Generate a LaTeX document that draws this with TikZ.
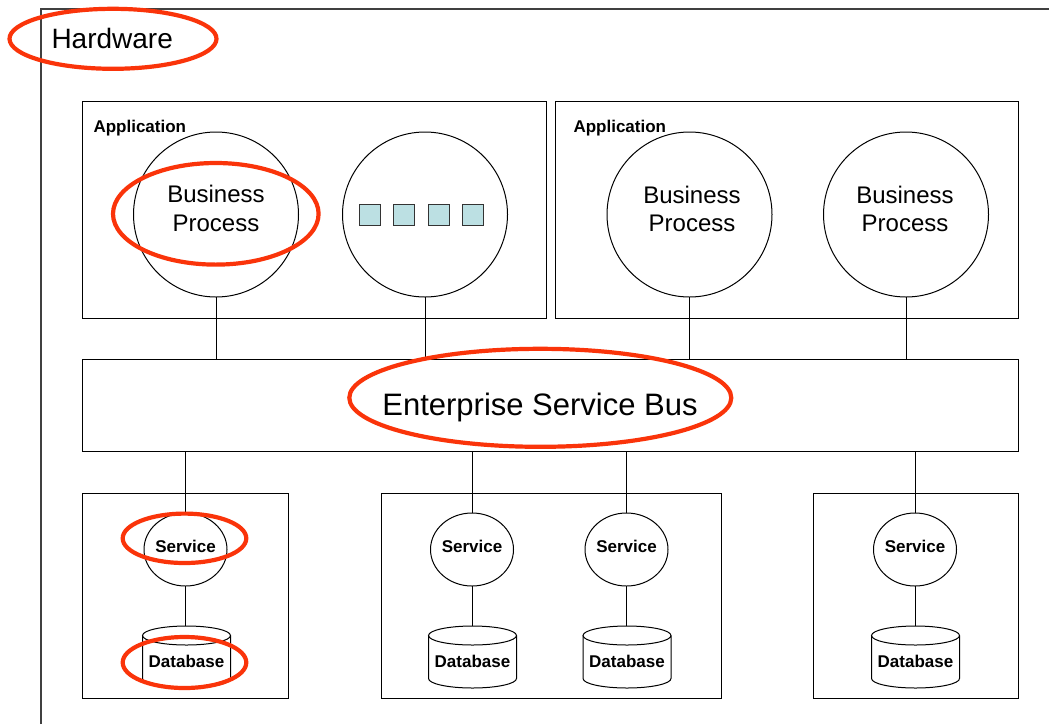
\documentclass[tikz,border=0pt]{standalone}
\usepackage{fontspec}
\setmainfont{Liberation Sans}
\usetikzlibrary{shapes.geometric}
\definecolor{annot}{RGB}{250,52,10}
\definecolor{sqfill}{RGB}{188,224,227}
\definecolor{framegray}{RGB}{64,64,64}
\newcommand\dbcyl[1]{%
  \draw ([yshift=-9.5pt]#1.north) ellipse[x radius=44pt,y radius=9.5pt];
  \draw ([yshift=-9.5pt]#1.north west) -- ([yshift=9.5pt]#1.south west)
        arc[start angle=180,end angle=360,x radius=44pt,y radius=9.5pt]
        -- ([yshift=-9.5pt]#1.north east);}
\begin{document}
\begin{tikzpicture}[x=1pt,y=-1pt,line width=1pt,
  box/.style={draw,rectangle,inner sep=0,outer sep=0},
  proc/.style={draw,circle,minimum size=165pt,inner sep=0,outer sep=0},
  svc/.style={draw,ellipse,minimum width=83pt,minimum height=73pt,inner sep=0,outer sep=0},
  sq/.style={draw=black!80,fill=sqfill,minimum size=21pt,inner sep=0,line width=1pt},
  dbnode/.style={minimum width=88pt,minimum height=62pt,inner sep=0,outer sep=0},
  annot/.style={draw=annot,line width=4.2pt},
  bigtxt/.style={font=\fontsize{24}{28}\selectfont,anchor=base,inner sep=0},
  smalltxt/.style={font=\fontsize{17}{20}\selectfont\bfseries,anchor=base,inner sep=0},
]
\useasboundingbox (0,0) rectangle (1049,724);
\fill[white] (0,0) rectangle (1049,724);
% hardware frame
\draw[framegray,line width=1.4pt] (41,724) -- (41,9) -- (1049,9);
\node[font=\fontsize{28}{32}\selectfont,anchor=base west,inner sep=0] (hw) at (51,48) {Hardware};
% application boxes
\node[box,minimum width=464pt,minimum height=217pt] (app1) at (314,209.5) {};
\node[box,minimum width=463pt,minimum height=217pt] (app2) at (786.5,209.5) {};
\node[smalltxt,anchor=base west] (app1t) at (93,132) {Application};
\node[smalltxt,anchor=base west] (app2t) at (573,132.5) {Application};
% processes
\node[proc] (bp1) at (216,214.5) {};
\node[proc] (c2) at (425,214.5) {};
\node[proc] (bp3) at (689.5,214.5) {};
\node[proc] (bp4) at (906,214.5) {};
\node[bigtxt] (bp1a) at (216,202.5) {Business};
\node[bigtxt] (bp1b) at (216,231) {Process};
\node[bigtxt] (bp3a) at (692,203) {Business};
\node[bigtxt] (bp3b) at (692,231.5) {Process};
\node[bigtxt] (bp4a) at (905,203) {Business};
\node[bigtxt] (bp4b) at (905,231.5) {Process};
\node[sq] (sq1) at (369.5,214.5) {};
\node[sq] (sq2) at (404.2,214.5) {};
\node[sq] (sq3) at (438.8,214.5) {};
\node[sq] (sq4) at (473.2,214.5) {};
% ESB
\node[box,minimum width=936pt,minimum height=92pt] (esb) at (550,405) {};
\node[font=\fontsize{31}{36}\selectfont,anchor=base,inner sep=0] (esbt) at (540,415) {Enterprise Service Bus};
\draw (bp1.south) -- (bp1.south |- esb.north);
\draw (c2.south) -- (c2.south |- esb.north);
\draw (bp3.south) -- (bp3.south |- esb.north);
\draw (bp4.south) -- (bp4.south |- esb.north);
% bottom boxes
\node[box,minimum width=206pt,minimum height=205pt] (boxa) at (185,595.5) {};
\node[box,minimum width=340pt,minimum height=205pt] (boxb) at (551,595.5) {};
\node[box,minimum width=205pt,minimum height=205pt] (boxc) at (915.5,595.5) {};
% services
\node[svc] (s1) at (185.5,549.5) {};
\node[svc] (s2) at (472,549.5) {};
\node[svc] (s3) at (626.5,549.5) {};
\node[svc] (s4) at (915,549.5) {};
\foreach \n in {s1,s2,s3,s4}{\node[smalltxt] (\n t) at ([yshift=-2.5pt]\n.center) {Service};}
% databases
\node[dbnode] (db1) at (186.5,657) {};
\node[dbnode] (db2) at (472.5,657) {};
\node[dbnode] (db3) at (627,657) {};
\node[dbnode] (db4) at (915.5,657) {};
\dbcyl{db1}\dbcyl{db2}\dbcyl{db3}\dbcyl{db4}
\foreach \n in {db1,db2,db3,db4}{\node[smalltxt] (\n t) at ([yshift=-10pt]\n.center) {Database};}
% connectors
\foreach \n/\d in {s1/db1,s2/db2,s3/db3,s4/db4}{
  \draw (\n.north |- esb.south) -- (\n.north);
  \draw (\n.south) -- (\n.south |- \d.north);
}
% annotations
\draw[annot] (113,38.8) ellipse[x radius=103.5pt,y radius=30pt];
\draw[annot] (215.8,213.8) ellipse[x radius=102.8pt,y radius=50.8pt];
\draw[annot] (540.3,397.8) ellipse[x radius=191pt,y radius=49pt];
\draw[annot] (184.5,538.3) ellipse[x radius=61.8pt,y radius=24.7pt];
\draw[annot] (184.5,662.5) ellipse[x radius=61.8pt,y radius=25.5pt];
\end{tikzpicture}
\end{document}
